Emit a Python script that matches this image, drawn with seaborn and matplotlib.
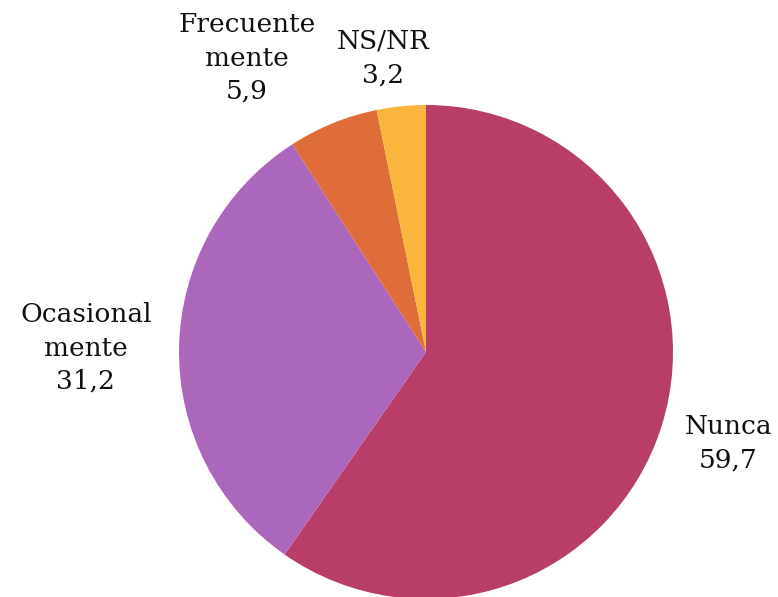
import matplotlib
matplotlib.use("Agg")
import matplotlib.pyplot as plt
import seaborn as sns

# datos
categorias = ["Nunca", "Ocasional\nmente", "Frecuente\nmente", "NS/NR"]
valores = [59.7, 31.2, 5.9, 3.2]
colores = ["#B83D68", "#AA67BB", "#DE6D39", "#F9B53D"]

# posicion de las etiquetas (en unidades del radio)
pos_etiquetas = [(1.223, -0.368), (-1.377, 0.016), (-0.725, 1.19), (-0.174, 1.19)]

sns.set_theme(style="white")
plt.rcParams['font.family'] = ['DejaVu Serif']

fig = plt.figure(figsize=(7.78, 5.97), dpi=100)
cx, cy, r = 426, 352, 247
ax = fig.add_axes([(cx - r) / 778, (597 - cy - r) / 597, 2 * r / 778, 2 * r / 597])

ax.pie(valores, colors=colores, startangle=90, counterclock=False,
       radius=1, wedgeprops=dict(linewidth=0))
ax.set_xlim(-1, 1)
ax.set_ylim(-1, 1)
ax.set_aspect('equal')
ax.axis('off')

for cat, v, (x, y) in zip(categorias, valores, pos_etiquetas):
    txt = cat + "\n" + ("%.1f" % v).replace(".", ",")
    ax.text(x, y, txt, ha='center', va='center', fontsize=19,
            linespacing=1.42, color='#111111', clip_on=False)

fig.savefig("out.png", dpi=100)
